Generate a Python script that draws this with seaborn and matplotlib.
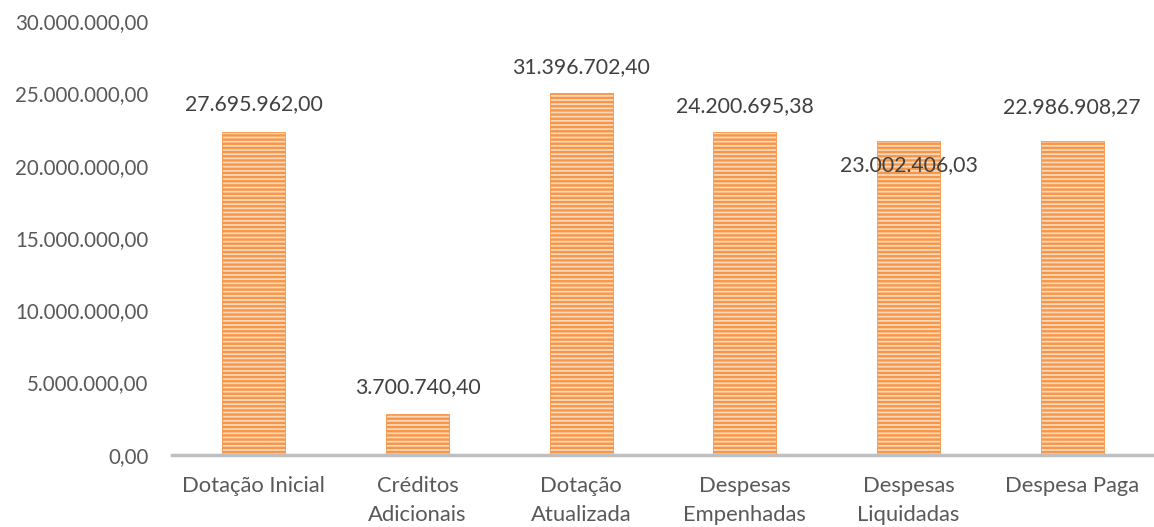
import numpy as np
import pandas as pd
import matplotlib
matplotlib.use("Agg")
import matplotlib.pyplot as plt
import seaborn as sns

categories = ['Dotação Inicial', 'Créditos\nAdicionais', 'Dotação\nAtualizada',
              'Despesas\nEmpenhadas', 'Despesas\nLiquidadas', 'Despesa Paga']
bar_values = [22330000, 2830000, 25020000, 22330000, 21700000, 21700000]
value_labels = ['27.695.962,00', '3.700.740,40', '31.396.702,40',
                '24.200.695,38', '23.002.406,03', '22.986.908,27']
y_ticks = [0, 5000000, 10000000, 15000000, 20000000, 25000000, 30000000]
y_tick_labels = ['0,00', '5.000.000,00', '10.000.000,00', '15.000.000,00',
                 '20.000.000,00', '25.000.000,00', '30.000.000,00']

df = pd.DataFrame({'categoria': categories, 'valor': bar_values})

sns.set_style('white')
plt.rcParams['font.family'] = ['Lato', 'DejaVu Sans']
plt.rcParams['hatch.linewidth'] = 1.7

fig = plt.figure(figsize=(11.54, 5.27), dpi=100)
ax = fig.add_axes([0.149, 0.137, 0.851, 0.823])

sns.barplot(data=df, x='categoria', y='valor', color='#FCD9BC', width=0.385,
            saturation=1, ax=ax)
for p in ax.patches:
    p.set_hatch('----')
    p.set_edgecolor('#F79646')
    p.set_linewidth(0.6)

# data labels (Excel placed the Liquidadas one inside the bar)
offsets = [28, 27, 26, 26, -24, 34]
for i, (v, lab) in enumerate(zip(bar_values, value_labels)):
    ax.annotate(lab, (i, v), xytext=(0, offsets[i]), textcoords='offset pixels',
                ha='center', va='center', fontsize=15.3, color='#404040')

ax.set_ylim(0, 30000000)
ax.set_xlim(-0.5, 5.5)
ax.set_yticks(y_ticks)
ax.set_yticklabels(y_tick_labels)
ax.tick_params(axis='y', length=0, pad=17, labelsize=14.8, labelcolor='#595959')
ax.tick_params(axis='x', length=0, pad=15, labelsize=15.8, labelcolor='#595959')
for t in ax.get_xticklabels():
    t.set_linespacing(1.6)
ax.set_xlabel('')
ax.set_ylabel('')
for s in ['top', 'right', 'left']:
    ax.spines[s].set_visible(False)
ax.spines['bottom'].set_color('#BFBFBF')
ax.spines['bottom'].set_linewidth(2.5)

fig.savefig('out.png', dpi=100)
